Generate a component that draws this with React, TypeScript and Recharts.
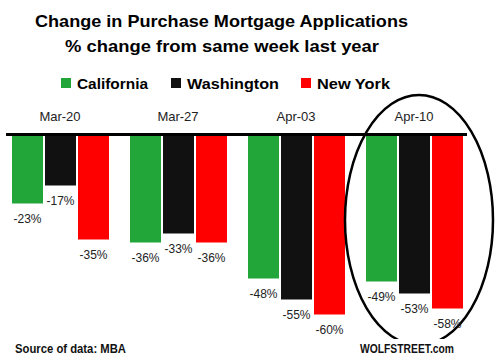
import React from "react";
import { BarChart, Bar, XAxis, YAxis, LabelList, ReferenceLine, ReferenceDot } from "recharts";

const categories = ["Mar-20", "Mar-27", "Apr-03", "Apr-10"];
const california = [-23, -36, -48, -49];
const washington = [-17, -33, -55, -53];
const newYork = [-35, -36, -60, -58];

const seriesNames = ["California", "Washington", "New York"];
const seriesKeys = ["ca", "wa", "ny"];
const seriesColors = ["#22a539", "#111111", "#ff0000"];

const data = categories.map((c, i) => ({
  cat: c,
  ca: california[i],
  wa: washington[i],
  ny: newYork[i],
}));

const FONT = "'Liberation Sans', Arial, sans-serif";

const renderValueLabel = (props: any) => {
  const { x, y, width, height, value } = props;
  const bottom = Math.max(Number(y), Number(y) + Number(height));
  return (
    <text
      x={Number(x) + Number(width) / 2}
      y={bottom + 15}
      textAnchor="middle"
      dominantBaseline="central"
      fontSize={12}
      fontFamily={FONT}
      fill="#222"
    >
      {`${value}%`}
    </text>
  );
};

const legendX = [61, 171, 301];
const legendTextLen = [71, 92, 73];

export default function App() {
  return (
    <div style={{ position: "absolute", left: 0, top: 0, width: 495, height: 361, background: "#fff" }}>
      <div style={{ position: "absolute", left: 0, top: 0 }}>
        <BarChart
          width={495}
          height={361}
          data={data}
          margin={{ top: 114.5, right: 22, bottom: 16.5, left: 1 }}
          barCategoryGap={11}
          barGap={2}
        >
          <XAxis
            dataKey="cat"
            orientation="top"
            height={20}
            axisLine={false}
            tickLine={false}
            tickSize={6}
            tickMargin={8}
            interval={0}
            tick={{ fontSize: 13, fill: "#222", fontFamily: FONT }}
          />
          <YAxis hide domain={[-70, 0]} />
          {seriesKeys.map((k, i) => (
            <Bar key={k} dataKey={k} name={seriesNames[i]} fill={seriesColors[i]} isAnimationActive={false}>
              <LabelList dataKey={k} content={renderValueLabel} />
            </Bar>
          ))}
          <ReferenceLine
            y={0}
            shape={(p: any) => (
              <line x1={p.x1 + 5} y1={p.y1} x2={p.x2 - 6} y2={p.y2} stroke="#000" strokeWidth={3} />
            )}
          />
          <ReferenceDot
            x="Apr-10"
            y={-30}
            shape={(p: any) => (
              <ellipse cx={p.cx + 5} cy={p.cy - 4.5} rx={74} ry={125} fill="none" stroke="#000" strokeWidth={2.5} />
            )}
          />
        </BarChart>
      </div>
      <svg
        width={495}
        height={361}
        style={{ position: "absolute", left: 0, top: 0, pointerEvents: "none" }}
        fontFamily={FONT}
      >
        <text x={35} y={27} fontSize={17} fontWeight="bold" fill="#000" textLength={373} lengthAdjust="spacingAndGlyphs">
          Change in Purchase Mortgage Applications
        </text>
        <text x={65} y={52} fontSize={17} fontWeight="bold" fill="#000" textLength={314} lengthAdjust="spacingAndGlyphs">
          % change from same week last year
        </text>
        {seriesNames.map((n, i) => (
          <g key={n}>
            <rect x={legendX[i]} y={78} width={10} height={10} fill={seriesColors[i]} />
            <text
              x={legendX[i] + 16}
              y={88.5}
              fontSize={15}
              fontWeight="bold"
              fill="#000"
              textLength={legendTextLen[i]}
              lengthAdjust="spacingAndGlyphs"
            >
              {n}
            </text>
          </g>
        ))}
        <text x={15} y={353} fontSize={12} fontWeight="bold" fill="#111" textLength={111} lengthAdjust="spacingAndGlyphs">
          Source of data: MBA
        </text>
        <rect x={352} y={339} width={110} height={22} fill="#fff" />
        <text x={360} y={353} fontSize={12} fontWeight="bold" fill="#111" textLength={94} lengthAdjust="spacingAndGlyphs">
          WOLFSTREET.com
        </text>
      </svg>
    </div>
  );
}
